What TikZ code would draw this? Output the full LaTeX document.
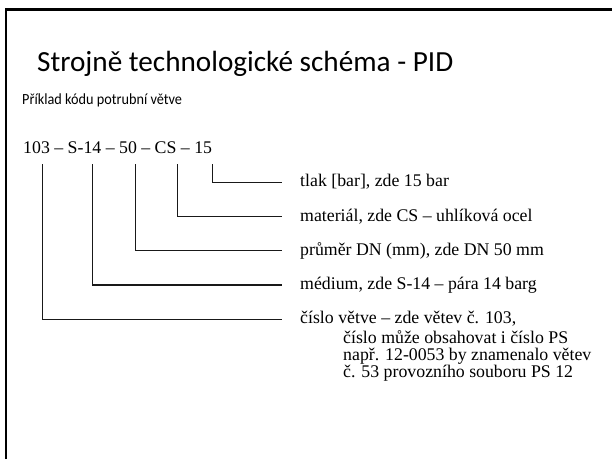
\documentclass[tikz,border=0pt]{standalone}
\usepackage{fontspec}
\setmainfont{Liberation Serif}
\newfontfamily\titlefont{Carlito}
\newfontfamily\subfont[FakeStretch=0.92]{Carlito}
\begin{document}
\begin{tikzpicture}[x=1pt,y=-1pt,
  frame/.style={line width=2.2pt,black},
  conn/.style={line width=1.3pt,black!90},
  lbl/.style={anchor=base west,inner sep=0pt,font=\fontsize{17.8}{18}\selectfont},
  ttl/.style={anchor=base west,inner sep=0pt,font=\titlefont\fontsize{29.2}{30}\selectfont},
  sub/.style={anchor=base west,inner sep=0pt,font=\subfont\fontsize{15.5}{16}\selectfont}]
\useasboundingbox[fill=white] (0,0) rectangle (612,459);
\draw[frame] (6,459) -- (6,9.5) -- (612,9.5);
\node[ttl] (title) at (37,71) {Strojně technologické schéma - PID};
\node[sub] (subtitle) at (22,104) {Příklad kódu potrubní větve};
\node[lbl] (code) at (23,153) {103 – S-14 – 50 – CS – 15};
% tops of the verticals
\coordinate (c1) at (42.7,164);
\coordinate (c2) at (92.7,164);
\coordinate (c3) at (135.7,164);
\coordinate (c4) at (177.7,164);
\coordinate (c5) at (212.3,164);
% ends of the horizontals
\coordinate (e5) at (281.5,182.3);
\coordinate (e4) at (281.5,216.7);
\coordinate (e3) at (281.5,250.7);
\coordinate (e2) at (281.5,285);
\coordinate (e1) at (281.5,319.3);
\draw[conn] (c5) |- (e5);
\draw[conn] (c4) |- (e4);
\draw[conn] (c3) |- (e3);
\draw[conn] (c2) |- (e2);
\draw[conn] (c1) |- (e1);
\node[lbl] (l5) at (300,186.7) {tlak [bar], zde 15 bar};
\node[lbl] (l4) at (300,221) {materiál, zde CS – uhlíková ocel};
\node[lbl] (l3) at (300,255) {průměr DN (mm), zde DN 50 mm};
\node[lbl] (l2) at (300,289.3) {médium, zde S-14 – pára 14 barg};
\node[lbl] (l1) at (300,323.6) {číslo větve – zde větev č. 103,};
\node[lbl] (l1b) at (343,343.3) {číslo může obsahovat i číslo PS};
\node[lbl] (l1c) at (343,360.5) {např. 12-0053 by znamenalo větev};
\node[lbl] (l1d) at (343,377.5) {č. 53 provozního souboru PS 12};
\end{tikzpicture}
\end{document}
